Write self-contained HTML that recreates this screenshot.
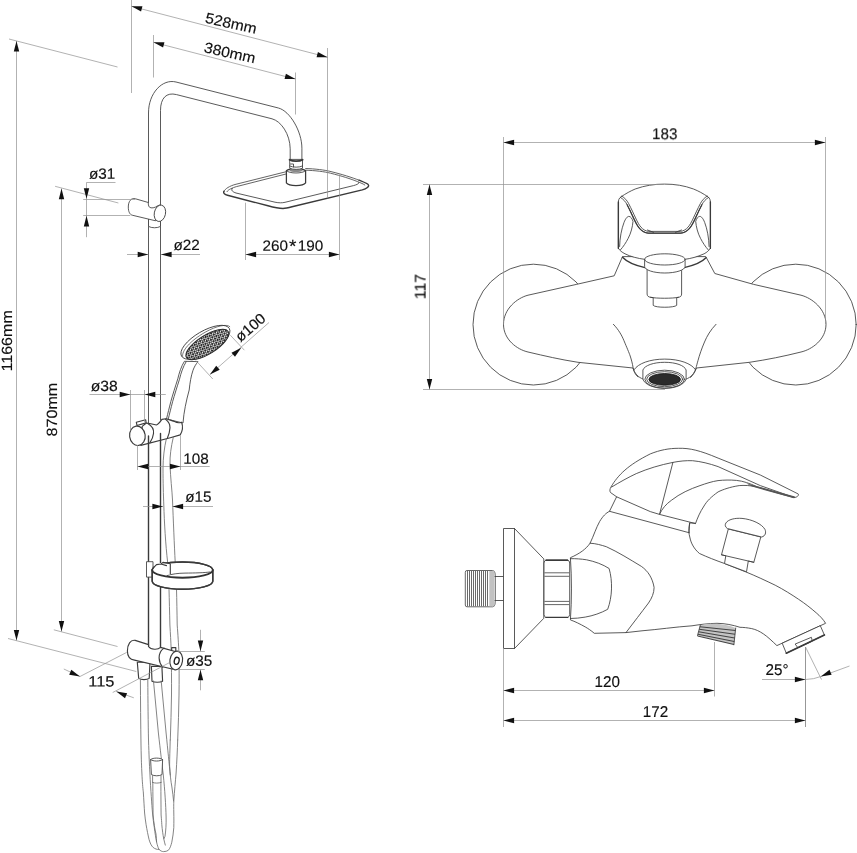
<!DOCTYPE html>
<html>
<head>
<meta charset="utf-8">
<title>Shower system dimensions</title>
<style>
html,body{margin:0;padding:0;background:#fff;}
body{width:857px;height:853px;overflow:hidden;}
svg{display:block;}
.o{fill:none;stroke:#3c3c3c;stroke-width:0.85;stroke-linecap:round;stroke-linejoin:round;}
.ob{fill:none;stroke:#3a3a3a;stroke-width:1.4;stroke-linecap:round;stroke-linejoin:round;}
.of{fill:#fff;stroke:#3c3c3c;stroke-width:0.85;stroke-linecap:butt;stroke-linejoin:round;}
.bold .o,.bold .of{stroke:#3c3c3c;stroke-width:1.15;}
.semi .o,.semi .of{stroke:#444;stroke-width:1.15;}
.h{fill:none;stroke:#6e6e6e;stroke-width:0.85;stroke-linecap:round;stroke-linejoin:round;}
.d{fill:none;stroke:#909090;stroke-width:0.7;}
.a{fill:#111;stroke:none;}
text{font-family:"Liberation Sans",sans-serif;font-size:15.7px;fill:#101010;stroke:#101010;stroke-width:0.15;text-rendering:geometricPrecision;}
#labels{opacity:0.999;}
</style>
</head>
<body>
<svg width="857" height="853" viewBox="0 0 857 853">
<defs>
<pattern id="dots" width="3" height="3" patternUnits="userSpaceOnUse" patternTransform="rotate(-30)">
<rect width="3" height="3" fill="#fff"/>
<circle cx="1.1" cy="1.1" r="1.15" fill="#161616"/>
<circle cx="2.6" cy="2.5" r="0.75" fill="#161616"/>
</pattern>
</defs>
<rect width="857" height="853" fill="#fff"/>
<g id="column">
<!-- pipe bend -->
<path class="o" d="M148.5,203 V113 C148.5,93 162.4,78.6 176,82 L278.4,108 C290,111 301.9,131.5 301.9,148.2 V159.4"/>
<path class="o" d="M160.5,205 V110.5 C160.5,98 166.5,92 176.5,94.6 L272,118.8 C281,121.1 290,134 290.2,148.8 V159.4"/>
<!-- pipe straight sections -->
<path class="o" d="M148.5,218 V424 M160.5,221 V420"/>

<!-- shower head plate -->
<g id="head">
<path class="ob" d="M224,191.2 C222.8,193.2 225,194.6 227.5,195.2 L268,205.8 C273,207.2 278,208.5 283,208.5 C286,208.4 289,207.6 292,206.8 L362.3,189.9 C366.5,188.7 369.8,186.4 368.2,184.6 C366.5,183 363,181.8 359,180.2"/>
<path class="o" style="stroke-width:0.8" d="M224,191.4 C225,188.5 230,186 235,184.5 L286.2,171.7 M305.7,168.5 C315,168.8 325,170 331,171.6 C342,174.3 352,177.5 359,180.2"/>
<path class="o" style="stroke-width:0.8" d="M227,191.6 C228,189.6 232.5,187.8 236.5,186.6 L286.4,173.9 M305.7,170.2 C315,170.5 324.5,171.6 330.5,173.2 C341.5,175.9 351,179 357.5,181.6 C361,183 363.5,184 364.8,185"/>
<path class="o" d="M232.3,188.3 C230.5,190.5 233,192 236,193 L275,202.2 C279,203 282,203 285,202.3 L353.5,185.6 C357.5,184.5 360,183.3 358.5,182.1"/>
</g>
<!-- head connector -->
<g id="conn">
<path class="of" style="stroke:#3a3a3a;stroke-width:1.25" d="M286.4,170.8 V182.9 C289,186.4 303,186.4 305.6,182.9 V170.8 C302.5,167.8 289.5,167.8 286.4,170.8 Z"/>
<path class="o" d="M286.4,170.8 C289.5,173.8 302.5,173.8 305.6,170.8"/>
<path d="M289,170.6 C291.5,168.9 300.5,168.9 303,170.6 C300.5,172.6 291.5,172.6 289,170.6 Z" fill="#8a8a8a" stroke="none"/>
<path class="of" d="M289.7,159.4 V168.2 C293,169.8 299.3,169.8 302.5,168.2 V159.4 Z"/>
<path class="ob" style="stroke-width:1.9" d="M289.6,159.7 C292.6,161.6 299.6,161.6 302.6,159.7"/>
<path class="o" d="M289.7,166 C293,167.6 299.3,167.6 302.5,166 M290.5,164 H293.5 V167"/>
</g>

<!-- upper holder -->
<g id="uh">
<path class="of" d="M148.5,218.5 V226.4 C151.5,228.2 157.5,228.2 160.5,226.4 V218.5 Z"/>
<path class="of" d="M135.5,198.8 C131,197.5 128.3,201.5 128.3,207 C128.3,212 130,214.6 132.2,215.2 L155.6,220.8 L160,205 L157.5,205.8 C155,208 151,208.5 149.5,207.2 C148.3,206 148.3,204 148.3,202.5 Z"/>
<ellipse class="of" cx="159.9" cy="213.3" rx="5.6" ry="8.3" transform="rotate(12 159.9 213.3)"/>
</g>

<!-- hand shower -->
<g id="hs">
<!-- hose behind everything -->
<path class="h" d="M166.3,439 C164.2,448 163.1,458 163,468 C163,482 163.4,495 163.8,505 C164.3,522 165.6,545 167.6,562 M169,589 C169.3,600 169.6,613 169.9,625 C170.4,634 170.9,642 171.1,648 C171.5,665 171.6,680 171.5,695 C171.3,710 170.8,725 170.3,740"/>
<path class="h" d="M173.2,437.7 C171,447 169.8,456 170,464.4 C170.5,478 172,490 172.5,500 C173.3,520 174.3,545 175.2,562 M176.5,589 C176.8,600 177,613 177.2,625 C177.9,634 178.6,645 178.9,652 C179.2,667 179.2,681 179,695 C178.8,710 178.3,725 177.7,740"/>
<!-- handle -->
<path class="of" d="M184.4,361.3 C181.2,366.5 179.3,372.5 177.8,378.8 C175.2,387 172.8,394.5 170.9,401.3 C169.2,408 167.9,413 166.5,419 L183,423 C183.8,412 186.3,400.5 189.2,390 C189.9,383 191,376 193,370.3 C194.2,367 195.8,364.3 198,361.6 Z"/>
<path class="o" d="M186.1,361.8 C182.9,367 181,373 179.5,379.2 C176.9,387.4 174.5,394.9 172.6,401.7 C170.9,408.4 169.6,413.4 168.2,419.4"/>
<!-- head -->
<ellipse class="of" cx="205.4" cy="342.3" rx="27.6" ry="11.3" transform="rotate(-30.2 205.4 342.3)"/>
<path class="o" style="stroke-width:0.7" d="M182.6,356.5 C181.5,351 190,341 205,332.3 C217,325.5 227,323.8 229.8,326.6"/>
<ellipse cx="207.3" cy="344.5" rx="24.6" ry="9.3" transform="rotate(-32 207.3 344.5)" fill="url(#dots)" stroke="#2a2a2a" stroke-width="1"/>
</g>

<!-- hand shower holder -->
<g id="hh" class="bold">
<path class="of" d="M142.2,426.4 L146.4,423 C150,423.6 153,424.3 156.3,425 C158.5,424.5 160,422 161.9,419.4 L166.1,418.7 C169,419.5 172,420.7 174.6,421.5 C177,423 179.5,423 181.6,422.2 C183,426 182.5,431 180.2,434.9 L170.3,437.7 L140.8,445.4 Z"/>
<path class="o" d="M147.8,423.6 C152,426 154,429.5 153.5,433.5 C153,437.5 151.5,440.5 150,442.6"/>
<path class="o" d="M165.4,419.1 C168.5,421.5 170.3,424 170,427.8 C169.7,431.8 168.8,435 167.5,437.7"/>
<ellipse class="of" cx="137.4" cy="435.8" rx="7.8" ry="9.7" transform="rotate(-8 137.4 435.8)"/>
<path class="of" d="M136.3,422.2 L145.7,419.8 L146.1,422.9 L137,425.5 Z"/>
</g>

<path class="ob" d="M148.5,436 V646 M160.5,433.5 V647"/>

<!-- soap dish -->
<g id="dish">
<path class="of" d="M146.5,561.7 H153 V577.1 H146.5 Z"/>
<path class="of" style="stroke-width:1.4" d="M152.2,570 C152.2,565.6 165.8,562 182.5,562 C199.2,562 212.8,565.6 212.8,570 V581.2 C212.8,585.6 199.2,589.3 182.5,589.3 C165.8,589.3 152.2,585.6 152.2,581.2 Z"/>
<path class="ob" d="M152.2,570 C152.2,565.6 165.8,562 182.5,562 C199.2,562 212.8,565.6 212.8,570 V581.2 C212.8,585.6 199.2,589.3 182.5,589.3 C165.8,589.3 152.2,585.6 152.2,581.2 Z"/>
<path class="ob" style="stroke-width:1.9;stroke:#333" d="M152.2,570 C152.2,574.2 165.8,577.7 182.5,577.7 C199.2,577.7 212.8,574.2 212.8,570"/>
<path class="o" d="M167,575.6 C172,574 178,573.2 185,573.1 C195,573 204,572.8 210,572"/>
<path d="M154.5,566.5 C155,565 157,563.6 160.8,562.9 L170.3,563.6 V574.6 C166,574 160,572.6 155.5,570.4 C154.2,569.4 154,567.5 154.5,566.5 Z" fill="#fff" stroke="none"/>
<path class="ob" style="stroke-width:1.1" d="M170.3,563.8 V574 M153.6,567.6 L156.5,564.6 L161,564 L163,562.4 L170.3,563.8 M161,564 L166.5,565.6"/>
</g>

<!-- lower bracket -->
<g id="lb" class="bold">
<!-- hose connectors -->
<path class="of" d="M137.3,662.2 L138.7,678.4 C141,680 147,680 149.2,678.4 L150,662.2 Z"/>
<path class="of" d="M151.4,666.4 L152,681.2 C154.5,682.6 160,682.6 162.6,681.2 L161.9,666.4 Z"/>
<path class="of" d="M135.2,640.4 C130.5,639.5 127.4,644.5 127.4,651 C127.4,656.5 130,659.5 134.5,660.1 L173.2,669.2 L176,651.7 L160.5,647.4 C158,650 151,650 148.5,646.5 V644.6 Z"/>
<path class="o" d="M164,648.1 C160.5,650.5 159,654 159.1,658 C159.3,662 160.8,665 162.6,667.1"/>
<ellipse class="of" cx="176.2" cy="660.5" rx="6.3" ry="9.4" transform="rotate(8 176.2 660.5)"/>
<ellipse cx="176.7" cy="660.8" rx="2.4" ry="3.6" transform="rotate(14 176.7 660.8)" fill="none" stroke="#1c1c1c" stroke-width="1.3"/>
<path class="o" d="M171.7,650.3 V647.6 H175.8 V651"/>
</g>

<!-- hoses lower -->
<g id="hoses">
<path class="h" d="M140.4,680 C140.5,700 140.7,725 141,745 C141.3,760 141.6,768 141.9,773 C142.3,782 142.8,788 143.3,791.8 C143.8,800 144.2,807 144.6,813 C145,817 145.5,821 146.1,824.7 C147,830 148,835 149,839.3 C150,843 151.5,846 153.1,847.4 C155,849 157,849.5 158.9,849.5"/>
<path class="h" d="M147.8,680 C147.9,700 148.2,725 148.5,740 C149,755 149.4,765 149.9,773 C150.3,782 150.8,790 151.3,796.5 C151.7,803 152.1,808 152.5,813 C153,818 153.6,823 154.3,827.6 C155,833 155.8,838 156.6,842.2 C157.3,845 158,847.5 158.9,849.2 C160.5,851 162,851.6 163.6,851.6 C165.5,851.6 167,851.2 168.3,850.3 C170,848.5 171,845.5 171.8,842.2 C172.8,837.5 173.4,832.5 173.8,827.6 C173.9,822 173.9,818 173.8,813 C173.7,808 173.7,804 173.8,801 C174.5,791 175.3,782 176.1,773 C176.8,762 177.4,750 177.7,740"/>
<path class="h" d="M153.5,681 L158.4,733 C160.3,750 162,764 163.3,775 C164.8,790 165.8,805 166.1,817 C166.3,824 165.8,831 165,836.3 L163.9,838.7"/>
<path class="h" d="M161.2,681 L166.1,733 C167.8,750 169.2,764 170.3,775"/>
<path class="h" d="M170.2,740 C170,750 169.6,758 169.6,765 C170,774 170.8,781 171.9,787 C172.6,792 173.2,797 173.6,801"/>
<!-- loose hose end -->
<path class="of" d="M150.6,759.6 L151.4,774.6 C154,776.2 159.5,776.2 162,774.6 L162.6,759.6 C160,757.6 153,757.6 150.6,759.6 Z"/>
<path class="o" d="M150.6,759.6 C153,761.6 160,761.6 162.6,759.6"/>
<path class="h" d="M152.6,775.6 V782.4 M161,775.6 V782.4 M152.6,782.4 C154.5,783.4 159,783.4 161,782.4"/>
<path class="h" d="M152.8,782.4 C152.9,795 153,806 153.1,815 C153.8,823 154.8,829 156,834 C156.3,837 156.5,840 156.6,842"/>
<path class="h" d="M160.9,782.4 C160.9,795 161,806 161.1,815 C161.5,820 161.7,822 161.8,824.7 C162.3,830 163,835 163.6,838.1 C164.2,841 164.8,843.5 165.3,845.1"/>
</g>
</g>
<g id="front">
<!-- wall flanges -->
<circle class="o" cx="533.4" cy="324.6" r="60.4"/>
<circle class="o" cx="795.8" cy="324.6" r="60.4"/>
<!-- body -->
<path class="of" d="M622.5,256.6 L614.2,275.8 L576.8,284.3 L528,295.2 C517,298 503.5,309 503.5,324.3 C503.5,339.5 517,349.5 528,352 C545,356 560,359.5 578,362.3 L633,368 C634.5,373 638,377.5 643.6,379.2 L685.8,379.2 C691,377.5 694.5,373 696.5,368 L749.5,362.3 C768,359.5 783,356.5 801,352 C812,349.5 826,339.5 826,324.3 C826,309 812,298 801,295.2 L753.3,284.3 L714.8,273.5 L705.8,256.6 Z"/>
<!-- spout curves -->
<path class="o" d="M613.4,324.3 C619,330 622,336 623.9,340.5 C627,348 629,352.5 630.2,356 C631.5,360 632.5,364 633,367.2 C633.5,371 635,374.5 638,377"/>
<path class="o" d="M716,324.3 C710.5,330 707,336 704.5,342 C701.5,349 699.5,355 698,360.5 C697,364 696.5,366 696,368 C695,372 693,375.5 690.5,377.5"/>
<!-- spout outlet -->
<path class="o" d="M634.3,369.5 C638,363.5 650,359.1 664.7,359.1 C679.5,359.1 691.5,363.5 695.3,369.5"/>
<path class="of" d="M642.9,370 C644.5,365.5 653.5,362.3 664.7,362.3 C676,362.3 684.5,365.5 686.1,370 V379 C684.5,384.5 676,388.3 664.7,388.3 C653.5,388.3 644.5,384.5 642.9,379 Z"/>
<ellipse class="o" cx="664.7" cy="379.2" rx="19.8" ry="9"/>
<ellipse class="o" cx="664.7" cy="379.2" rx="18" ry="7.5"/>
<ellipse cx="664.7" cy="379.4" rx="15.8" ry="5.9" fill="#2b2b2b" stroke="#111" stroke-width="0.8"/>
<!-- handle base ring -->
<path class="ob" d="M622.5,257.3 C627,262 635,265.5 645,267.6 M684.2,267.6 C694,265.5 702,262 706,257.8"/>
<!-- handle -->
<path class="of" d="M618.3,248.2 V203.1 C618.3,200 619,198.2 621,196.8 C626,193.5 630.5,191 635.2,189 C645,185.5 654,184.1 664.4,184.1 C675,184.1 684,185.5 693.5,189 C698.5,191 703,193.5 708,196.8 C709.8,198.2 710.4,200 710.4,203.1 V248.2 C709,250.5 707,252.3 704.1,253.8 C697,257 691,258.5 684.4,259.4 L645,259.4 C638,258.5 630,256.5 625,253.8 C622,252.3 619.7,250.5 618.3,248.2 Z"/>
<path class="o" d="M621.8,196.1 C625,198 627,200.5 628.6,203.5 C631.5,209 633.5,213.5 635.6,218 C637.5,222 639,225 641,227.2 C643,229.5 645.5,231 648.5,231.4 L680.5,231.4 C683.5,231 686,229.5 688,227.2 C690,225 691.5,222 693.4,218 C695.5,213.5 697.5,209 700.4,203.5 C702,200.5 704,198 707.2,196.1"/>
<path class="o" d="M620.3,197.3 C623.5,199.2 625.5,201.7 627.1,204.7 C630,210.2 632,214.7 634.1,219.2 C636,223.2 637.5,226.2 639.7,228.6 C642,231.2 645,232.8 648.3,233.2 L680.7,233.2 C684,232.8 687,231.2 689.3,228.6 C691.5,226.2 693,223.2 694.9,219.2 C697,214.7 699,210.2 701.9,204.7 C703.5,201.7 705.5,199.2 708.7,197.3"/>
<path class="o" d="M647.5,230 L653.5,232.3 M681.5,230 L675.5,232.3"/>
<path class="ob" style="stroke-width:1.3" d="M618.4,202 V248.4 M710.4,202 V248.4"/>
<path class="ob" style="stroke-width:1.2" d="M627.1,204.7 C630,210.2 632,214.7 634.1,219.2 C636,223.2 637.5,226.2 639.7,228.6 C642,231.2 645,232.8 648.3,233.2 L680.7,233.2 C684,232.8 687,231.2 689.3,228.6 C691.5,226.2 693,223.2 694.9,219.2 C697,214.7 699,210.2 701.9,204.7"/>
<!-- lobes -->
<path class="o" d="M619.6,246.5 C619.8,238 621.5,229 624,222.5 C625.5,218.5 627.5,216.2 629,216.4 C630.8,216.6 632.2,218.5 633,221.4 C632.5,227 631,233 628.2,238.3 C626,242.5 623.5,246.5 620.5,249.8"/>
<path class="o" d="M709.1,246.5 C708.9,238 707.2,229 704.7,222.5 C703.2,218.5 701.2,216.2 699.7,216.4 C697.9,216.6 696.5,218.5 695.7,221.4 C696.2,227 697.7,233 700.5,238.3 C702.7,242.5 705.2,246.5 708.2,249.8"/>
<!-- diverter knob -->
<path class="of" d="M647.1,268 V294 C647.1,296 648.5,297 650.5,297.3 L653.2,297.6 V305.3 C655,307.9 674.5,307.9 676.7,305.3 V297.6 L678.5,297.3 C680.5,297 681.6,296 681.6,294 V268 Z"/>
<path class="o" d="M650.5,297.3 C656,298.6 673,298.6 678.5,297.3"/>
<path class="of" d="M644.6,259.4 C644.6,256.3 653.6,253.8 664.8,253.8 C676,253.8 685.1,256.3 685.1,259.4 V266.4 C685.1,270 676,273 664.8,273 C653.6,273 644.6,270 644.6,266.4 Z"/>
<path class="o" d="M644.6,259.4 C644.6,262.5 653.6,265 664.8,265 C676,265 685.1,262.5 685.1,259.4"/>
</g>
<g id="side">
<!-- thread stub -->
<path d="M467,570.5 H492.5 Q494.8,570.7 495,573 L495.3,576.2 V600.6 L495,604.2 Q494.8,606.6 492.5,606.8 H467 Q465.3,606.8 465.3,605 V572.2 Q465.3,570.5 467,570.5 Z" fill="#fff" stroke="#555" stroke-width="0.9"/>
<path d="M467.5,571 V606.3 M469.5,571 V606.3 M471.5,571 V606.3 M473.5,571 V606.3 M475.5,571 V606.3 M477.5,571 V606.3 M479.5,571 V606.3 M481.5,571 V606.3 M483.5,571 V606.3 M485.5,571 V606.3 M487.5,571 V606.3" fill="none" stroke="#6a6a6a" stroke-width="1"/>
<path d="M489.3,571 V606.3 H494.4 V571 Z" fill="#c2c2c2" stroke="none"/>
<path class="o" d="M495,576.5 H503.5 M495,600.5 H503.5"/>
<!-- flange -->
<path class="of" d="M503.5,528.5 H514.5 L543.8,558.9 V618.3 L514.5,648.5 H503.5 Z"/>
<path class="o" d="M514.5,528.5 V648.5"/>
<!-- nut -->
<path class="of" d="M546,560 H567.6 Q569.5,560.5 569.7,563 V614.4 Q569.5,617 567.6,617.5 H546 Q544.2,617 544,614.4 V563 Q544.2,560.5 546,560 Z"/>
<path class="ob" d="M546,560.2 H567.6 M546,617.4 H567.6"/>
<path d="M544.4,572.8 H569.3 M544.4,576.3 H569.3 M544.4,601.4 H569.3 M544.4,604.6 H569.3" fill="none" stroke="#555" stroke-width="0.9"/>
<!-- body -->
<path class="of" d="M570.4,557.7 C580,553.5 586,549 590.1,543.2 C594,535 596,528 599.7,521.4 C603,516 606,513 609.5,511.3 L616.6,496.8 L610.5,492.5 C609.5,491 609.8,489 611,487 C618,475 628,465 650.3,453.9 C660,450 669,448.3 678.5,448.3 C690,448 700,450.5 718.1,458.1 L760.3,475 L798.3,494 C799,495.5 797,497.5 794,497.5 C780,494 768,490 757.5,487 C750,485.3 744,485.2 739.2,485.6 C730,487 723,489.5 718.1,491.9 C711,497 707,501 704,506 C700,512 697.5,518 695.6,523.3 L689.7,522.9 C688.5,528 688.5,533 690,538 C691,543 694,549 699.5,553.5 C707,557 716,560.5 724.5,563.5 L745.3,571.7 C756,576 766,580.8 775.2,585.2 C783.5,589.5 791.5,594.5 798.6,599.3 C805,603.5 811,608.3 816.2,612.8 C820,616 823.3,619.5 825.6,623.3 L776.9,645.6 C772,641 768,637 763.4,633.9 C759.5,631.3 756,629.5 751.7,628.6 C747,627.7 744,627.4 740,627.3 C733,625 725,623.4 717,623.3 C708,623.5 700,624.5 692,625.8 C675,627 658,629.5 642,630.8 L626,632.6 L594.3,633.3 C591,630.5 588,628.5 585.2,626.9 C580,624 575,621.5 570.4,619.9 C571.8,600 571.8,578 570.4,557.7 Z"/>
<!-- inner body lines -->
<path class="o" d="M590.1,543.2 C596,543.5 601,545 606.3,546.7 C618,552 630,559.5 641.4,566.4 C648,571 652.5,578 654.1,587.5 C654,593 652,598 648.5,603 C641,613 634,622 626,632.6"/>
<path class="o" d="M570.4,558.7 C576,558.5 581,559 586.6,559.8 C595,561.5 603,564.5 609.1,568.5 C611,575 611.7,582 611.5,588.9 C611.3,596 610,603 607.7,609.3 C601,613 593,615.8 585.2,617.1 C580,618 575,618.5 570.4,618.5"/>
<!-- neck -->
<path class="o" d="M609.5,511.3 L689,532.7 M616.6,496.8 L650.3,511.6 L659.5,514.4 L695.6,523.6 M689.7,522.9 L689,532.7"/>
<!-- handle inner lines -->
<path class="o" d="M611.7,487 C620,482 628,477.5 636.3,473.6 C648,468.5 660,465 672.9,462.4 C680,461 686,460.5 692.5,460.7 C701,461.5 709,463.5 718.1,466.6 L760.3,485.6 L794.1,497.5"/>
<path class="o" d="M672.9,462.4 L659.5,514.4 C662,509 666,504 671.4,500.3 C680,493.5 690,489 700,485.6 C706,483.5 712,481.5 718,480.6 C724,480 730,479.8 736.4,480.4 C743,481 750,483.5 756,486.3"/>
<path d="M746,483.2 L795,496.6 L794,498.3 L752,486.6 Z" fill="#555" stroke="none"/>
<!-- diverter knob side -->
<path class="of" d="M728.3,529 L721.5,554.8 L725.8,555.8 L724.5,563.5 L746.5,571.8 L748.3,561 L753.8,562.3 L760.8,537 Z"/>
<path class="o" d="M721.5,554.8 L753.8,562.3"/>
<path class="of" d="M727.3,528.5 C725,527 724.8,524.5 725.9,523 C728,519.5 735,517.8 742,518.4 C752,519.3 762,524 765,529.5 C766.3,532.5 765.5,536 761.7,537 Z"/>
<!-- aerator -->
<path class="of" d="M782.2,643.2 L786.3,653.2 L824.4,635 L820.3,625.7 Z"/>
<path class="ob" style="stroke-width:1.7" d="M786.3,653.2 L824.4,635"/>
<path class="o" d="M795.5,643.9 L811.4,637.3 L812.3,641.1 L798.3,647.6 Z"/>
<!-- threaded outlet -->
<path d="M700.3,625.2 C712,622.8 724,623.5 735.7,628 L733.9,644.8 L697.5,635.5 Z" fill="#c4c4c4" stroke="none"/>
<path d="M699.8,626.8 L735.5,630.6 M699.2,629.3 L735.1,634.3 M698.6,631.8 L734.7,638 M698,634.3 L734.3,641.6 M697.6,636 L734,644.6" fill="none" stroke="#444" stroke-width="1.05"/>
<path class="o" d="M700.3,625.2 L697.5,635.5 M735.7,628 L733.9,644.8"/>
</g>
<g id="dims-left" class="d">
<!-- 1166mm -->
<path d="M16.5,41 V640.5 M9,39 L117.5,67 M8,638.5 L136.3,671.5"/>
<!-- 870mm -->
<path d="M61.5,188.6 V631.5 M55.1,186.3 L118.4,203 M53.8,629.8 L117.5,646.5"/>
<!-- 528mm -->
<path d="M131.5,0 V93 M327.5,48 V198.3 M131.5,6.3 L327.5,57.2"/>
<!-- 380mm -->
<path d="M153.5,35 V77.5 M295.5,72.5 V114.5 M153.5,42.3 L295.5,79.1"/>
<!-- d31 -->
<path d="M86.5,182.5 H115.5 M86.5,182.5 V237.2 M83.2,199.5 H135.3 M83.2,215.5 H130.3"/>
<!-- d22 -->
<path d="M127,254.5 H148.3 M161,254.5 H200"/>
<!-- 260*190 -->
<path d="M245.5,202.7 V260 M339.5,174.5 V260 M245.5,254.5 H339.5"/>
<!-- d100 -->
<path d="M209.9,374.6 L269,322.5 M195.9,360.5 L212.8,379 M230.3,335.2 L244.4,350.2"/>
<!-- d38 -->
<path d="M89.5,394.5 H165.8 M130.5,390 V430.6 M144.5,390 V422"/>
<!-- 108 -->
<path d="M137.5,466.5 H209.7 M137.5,445 V470 M180.5,435.6 V470"/>
<!-- d15 -->
<path d="M143,506.5 H163 M172.5,506.5 H213"/>
<!-- d35 -->
<path d="M200.5,629.8 V651.2 M200.5,669.5 V690.3 M178,651.5 H204.8 M178,669.5 H204.8"/>
<!-- 115 -->
<path d="M63.8,669 L80,676.5 M116.3,691.5 L133.8,697.8 M80,676.5 L126.7,652.4 M112.7,692.5 L170.3,662.2"/>
</g>
<g id="dims-right" class="d">
<!-- 183 -->
<path d="M503.5,137 V324 M825.5,137 V324 M503.5,142.5 H825.5"/>
<!-- 117 -->
<path d="M429.5,184.3 V389.5 M423,184.5 H662 M423,389.5 H665"/>
<!-- 120 / 172 -->
<path d="M503.5,648 V727 M714.5,642 V696.5 M503.5,690.5 H714.5 M503.5,720.5 H805.5"/>
<path d="M805.5,647 V727" style="stroke:#6a6a6a"/>
<!-- 25 deg -->
<path d="M762,679.5 H805.5 Q814,679.3 820.8,676.5 L849.5,666 M805.5,647 L821.5,679.5"/>
</g>
<g id="arrows" class="a">
<!-- 1166 -->
<path d="M0,0 L-10.6,-2.7 L-10.6,2.7 Z" transform="translate(16.5,41) rotate(-90)"/>
<path d="M0,0 L-10.6,-2.7 L-10.6,2.7 Z" transform="translate(16.5,640.5) rotate(90)"/>
<!-- 870 -->
<path d="M0,0 L-10.6,-2.7 L-10.6,2.7 Z" transform="translate(61.5,188.6) rotate(-90)"/>
<path d="M0,0 L-10.6,-2.7 L-10.6,2.7 Z" transform="translate(61.5,631.5) rotate(90)"/>
<!-- 528 -->
<path d="M0,0 L-10.6,-2.7 L-10.6,2.7 Z" transform="translate(131.5,6.3) rotate(194.6)"/>
<path d="M0,0 L-10.6,-2.7 L-10.6,2.7 Z" transform="translate(327.5,57.2) rotate(14.6)"/>
<!-- 380 -->
<path d="M0,0 L-10.6,-2.7 L-10.6,2.7 Z" transform="translate(153.5,42.3) rotate(194.5)"/>
<path d="M0,0 L-10.6,-2.7 L-10.6,2.7 Z" transform="translate(295.5,79.1) rotate(14.5)"/>
<!-- d31 -->
<path d="M0,0 L-10.6,-2.7 L-10.6,2.7 Z" transform="translate(86.5,198.8) rotate(90)"/>
<path d="M0,0 L-10.6,-2.7 L-10.6,2.7 Z" transform="translate(86.5,215.8) rotate(-90)"/>
<!-- d22 -->
<path d="M0,0 L-10.6,-2.7 L-10.6,2.7 Z" transform="translate(148.3,254.5) rotate(0)"/>
<path d="M0,0 L-10.6,-2.7 L-10.6,2.7 Z" transform="translate(161,254.5) rotate(180)"/>
<!-- 260*190 -->
<path d="M0,0 L-10.6,-2.7 L-10.6,2.7 Z" transform="translate(245.5,254.5) rotate(180)"/>
<path d="M0,0 L-10.6,-2.7 L-10.6,2.7 Z" transform="translate(339.5,254.5) rotate(0)"/>
<!-- d100 -->
<path d="M0,0 L-10.6,-2.7 L-10.6,2.7 Z" transform="translate(209.9,374.6) rotate(139.5)"/>
<path d="M0,0 L-10.6,-2.7 L-10.6,2.7 Z" transform="translate(241.3,347.8) rotate(-40.5)"/>
<!-- d38 -->
<path d="M0,0 L-10.6,-2.7 L-10.6,2.7 Z" transform="translate(130.3,394.5) rotate(0)"/>
<path d="M0,0 L-10.6,-2.7 L-10.6,2.7 Z" transform="translate(144.7,394.5) rotate(180)"/>
<!-- 108 -->
<path d="M0,0 L-10.6,-2.7 L-10.6,2.7 Z" transform="translate(137.5,466.5) rotate(180)"/>
<path d="M0,0 L-10.6,-2.7 L-10.6,2.7 Z" transform="translate(180.5,466.5) rotate(0)"/>
<!-- d15 -->
<path d="M0,0 L-10.6,-2.7 L-10.6,2.7 Z" transform="translate(163,506.5) rotate(0)"/>
<path d="M0,0 L-10.6,-2.7 L-10.6,2.7 Z" transform="translate(172.5,506.5) rotate(180)"/>
<!-- d35 -->
<path d="M0,0 L-10.6,-2.7 L-10.6,2.7 Z" transform="translate(200.5,651.2) rotate(90)"/>
<path d="M0,0 L-10.6,-2.7 L-10.6,2.7 Z" transform="translate(200.5,669.7) rotate(-90)"/>
<!-- 115 -->
<path d="M0,0 L-10.6,-2.7 L-10.6,2.7 Z" transform="translate(80,676.5) rotate(23)"/>
<path d="M0,0 L-10.6,-2.7 L-10.6,2.7 Z" transform="translate(116.3,691.5) rotate(203)"/>
<!-- 183 -->
<path d="M0,0 L-10.6,-2.7 L-10.6,2.7 Z" transform="translate(503.5,142.5) rotate(180)"/>
<path d="M0,0 L-10.6,-2.7 L-10.6,2.7 Z" transform="translate(825.5,142.5) rotate(0)"/>
<!-- 117 -->
<path d="M0,0 L-10.6,-2.7 L-10.6,2.7 Z" transform="translate(429.5,184.5) rotate(-90)"/>
<path d="M0,0 L-10.6,-2.7 L-10.6,2.7 Z" transform="translate(429.5,389.5) rotate(90)"/>
<!-- 120 -->
<path d="M0,0 L-10.6,-2.7 L-10.6,2.7 Z" transform="translate(503.5,690.5) rotate(180)"/>
<path d="M0,0 L-10.6,-2.7 L-10.6,2.7 Z" transform="translate(714.5,690.5) rotate(0)"/>
<!-- 172 -->
<path d="M0,0 L-10.6,-2.7 L-10.6,2.7 Z" transform="translate(503.5,720.5) rotate(180)"/>
<path d="M0,0 L-10.6,-2.7 L-10.6,2.7 Z" transform="translate(805.5,720.5) rotate(0)"/>
<!-- 25deg -->
<path d="M0,0 L-10.6,-2.7 L-10.6,2.7 Z" transform="translate(805.5,679.5) rotate(0)"/>
<path d="M0,0 L-10.6,-2.7 L-10.6,2.7 Z" transform="translate(820.8,676.5) rotate(157)"/>
</g>
<g id="labels">
<text style="font-size:14.8px" transform="translate(204.5,22.6) rotate(12.5) scale(1.06,1)">528mm</text>
<text style="font-size:14.8px" transform="translate(203.3,52.1) rotate(12.5) scale(1.06,1)">380mm</text>
<text style="font-size:14.8px" transform="translate(12,371.5) rotate(-90.03) scale(1.085,1)">1166mm</text>
<text style="font-size:14.8px" transform="translate(57.1,436.5) rotate(-90.03) scale(1.09,1)">870mm</text>
<text style="font-size:14.8px" transform="translate(89,178.8) rotate(0.03) scale(1.03,1)">ø31</text>
<text style="font-size:14.8px" transform="translate(173.5,250) rotate(0.03) scale(1.03,1)">ø22</text>
<text style="font-size:14.8px" transform="translate(262.6,250.8) rotate(0.03) scale(1.03,1)">260<tspan dx="1.0" dy="1.6" font-size="18.5">*</tspan><tspan dx="1.2" dy="-1.6">190</tspan></text>
<text style="font-size:14.8px" transform="translate(240.4,342.5) rotate(-40.5) scale(1.03,1)">ø100</text>
<text style="font-size:14.8px" transform="translate(90.7,391) rotate(0.03) scale(1.06,1)">ø38</text>
<text style="font-size:14.8px" transform="translate(183.2,463.7) rotate(0.03) scale(1.03,1)">108</text>
<text style="font-size:14.8px" transform="translate(185.2,501.8) rotate(0.03) scale(1.03,1)">ø15</text>
<text style="font-size:14.8px" transform="translate(186,665.7) rotate(0.03) scale(1.03,1)">ø35</text>
<text style="font-size:14.8px" transform="translate(88.3,686.5) rotate(0.03) scale(1.11,1)">115</text>
<text transform="translate(652,139.2) rotate(0.03) scale(0.97,1)">183</text>
<text transform="translate(425.6,299.3) rotate(-90.03) scale(1.01,1)">117</text>
<text transform="translate(594.5,687) rotate(0.03) scale(0.97,1)">120</text>
<text transform="translate(642.7,717) rotate(0.03) scale(0.97,1)">172</text>
<text transform="translate(765.5,675) rotate(0.03) scale(0.97,1)">25°</text>
</g>
</svg>
</body>
</html>
